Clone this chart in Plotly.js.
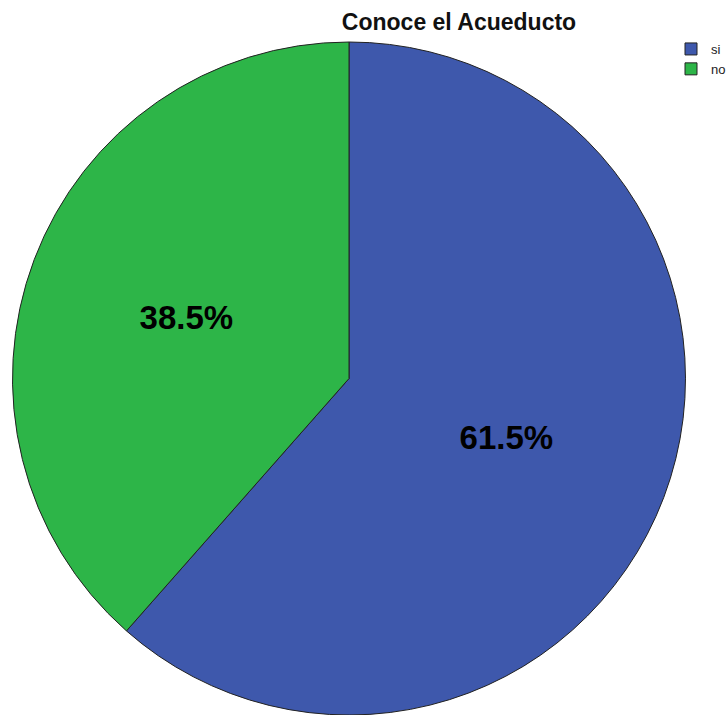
<!DOCTYPE html>
<html>
<head>
<meta charset="utf-8">
<script src="https://cdn.plot.ly/plotly-3.0.1.min.js"></script>
<style>html,body{margin:0;padding:0;background:#fff;}#chart{width:728px;height:715px;}</style>
</head>
<body>
<div id="chart"></div>
<script>
const categories = ["si", "no"];
const percentages = [61.5, 38.5];
const colors = ["#3E58AC", "#2DB548"];
const chartTitle = "Conoce el Acueducto";

const trace = {
  type: "pie",
  labels: categories,
  values: percentages,
  sort: false,
  direction: "clockwise",
  rotation: 0,
  marker: {colors: colors, line: {color: "#222222", width: 1}},
  texttemplate: "%{value:.1f}%",
  textposition: "inside",
  insidetextorientation: "horizontal",
  textfont: {family: "Liberation Sans, Arial, sans-serif", size: 33, color: "#000", weight: "bold"},
  hoverinfo: "label+percent",
  domain: {x: [12/728, 686/728], y: [0, 1 - 42/715]}
};

const layout = {
  width: 728, height: 715,
  margin: {l: 0, r: 0, t: 0, b: 0, autoexpand: false},
  paper_bgcolor: "#fff",
  title: {
    text: "<b>" + chartTitle + "</b>",
    x: 459/728, xanchor: "center", xref: "paper",
    y: 1 - 22/715, yanchor: "middle", yref: "container",
    font: {family: "Liberation Sans, Arial, sans-serif", size: 23, color: "#111"}
  },
  showlegend: true,
  legend: {
    x: 671/728, xanchor: "left", y: 1 - 34/715, yanchor: "top",
    font: {family: "Liberation Sans, Arial, sans-serif", size: 13, color: "#222"},
    itemwidth: 30, tracegroupgap: 0, bgcolor: "rgba(0,0,0,0)"
  }
};

Plotly.newPlot("chart", [trace], layout, {displayModeBar: false});
</script>
</body>
</html>
